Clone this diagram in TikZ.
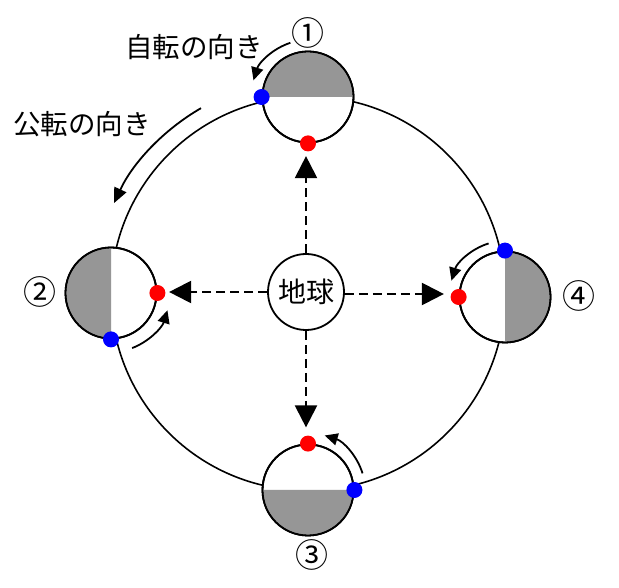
\documentclass[tikz,border=0pt]{standalone}
\usepackage{fontspec}
\setmainfont{Noto Sans CJK JP}
\usetikzlibrary{arrows.meta}
\definecolor{shadegray}{RGB}{150,150,150}
\definecolor{dotblue}{RGB}{0,0,255}
\definecolor{dotred}{RGB}{255,0,0}
\tikzset{
  planet/.style={circle,draw=black,line width=1.8pt,fill=white,minimum size=91pt,inner sep=0pt},
  earthnode/.style={circle,draw=black,line width=1.8pt,fill=white,minimum size=76pt,inner sep=0pt,font=\fontsize{28}{30}\selectfont},
  bluedot/.style={circle,fill=dotblue,minimum size=16pt,inner sep=0pt},
  reddot/.style={circle,fill=dotred,minimum size=16pt,inner sep=0pt},
  orbit/.style={line width=1.6pt},
  rotarrow/.style={line width=1.8pt,-{Triangle[length=13pt,width=12pt]}},
  revarrow/.style={line width=1.8pt,-{Triangle[length=15pt,width=13pt]}},
  dasharrow/.style={line width=2.2pt,dash pattern=on 9pt off 5pt,-{Triangle[length=22pt,width=22pt]}},
  label/.style={font=\fontsize{27.5}{30}\selectfont,inner sep=0pt},
  numlabel/.style={font=\fontsize{33}{34}\selectfont,inner sep=0pt}
}
\begin{document}
\begin{tikzpicture}[x=1pt,y=1pt]
\useasboundingbox (0,0) rectangle (619,587);
% orbit
\coordinate (oc) at (308,293.5);
\draw[orbit] (oc) circle (197);
% planets
\node[planet] (p1) at (308,490) {};
\node[planet] (p2) at (111,294) {};
\node[planet] (p3) at (308,97) {};
\node[planet] (p4) at (505,290) {};
% shaded halves
\fill[shadegray] (p1.center) ++(0:44.6) arc (0:180:44.6) -- cycle;
\fill[shadegray] (p2.center) ++(90:44.6) arc (90:270:44.6) -- cycle;
\fill[shadegray] (p3.center) ++(180:44.6) arc (180:360:44.6) -- cycle;
\fill[shadegray] (p4.center) ++(-90:44.6) arc (-90:90:44.6) -- cycle;
\foreach \p in {p1,p2,p3,p4} \draw[line width=1.8pt] (\p.center) circle (45.5);
% dots
\node[bluedot] (b1) at (p1.west) {};
\node[reddot] (r1) at (p1.south) {};
\node[bluedot] (b2) at (p2.south) {};
\node[reddot] (r2) at (p2.east) {};
\node[bluedot] (b3) at (p3.east) {};
\node[reddot] (r3) at (p3.north) {};
\node[bluedot] (b4) at (p4.north) {};
\node[reddot] (r4) at (p4.west) {};
% earth
\node[earthnode] (e) at (306,295) {地球};
\draw[dasharrow,shorten >=4.5pt] (e.north) -- (e.north |- r1.south);
\draw[dasharrow,shorten >=3.5pt] (e.west) -- (e.west -| r2.east);
\draw[dasharrow,shorten >=8pt] (e.south) -- (e.south |- r3.north);
\draw[dasharrow,shorten >=6.5pt] ([yshift=-2pt]e.east) -- ([yshift=-2pt]e.east -| r4.west);
% rotation arrows
\draw[rotarrow] (p1.center) ++(108:57) arc (108:163:57);
\draw[rotarrow] (p2.center) ++(-69:59) arc (-69:-17:59);
\draw[rotarrow] (p3.center) ++(17:57) arc (17:73:57);
\draw[rotarrow] (p4.center) ++(107:56) arc (107:163:56);
% revolution arrow
\draw[revarrow] (oc) ++(120:214) arc (120:155:214);
% labels
\node[label] (l1) at (194,540) {自転の向き};
\node[label] (l2) at (82,463) {公転の向き};
\node[numlabel] (n1) at (308,554) {①};
\node[numlabel] (n2) at (40,295) {②};
\node[numlabel] (n3) at (312,32) {③};
\node[numlabel] (n4) at (579,291) {④};
\end{tikzpicture}
\end{document}
